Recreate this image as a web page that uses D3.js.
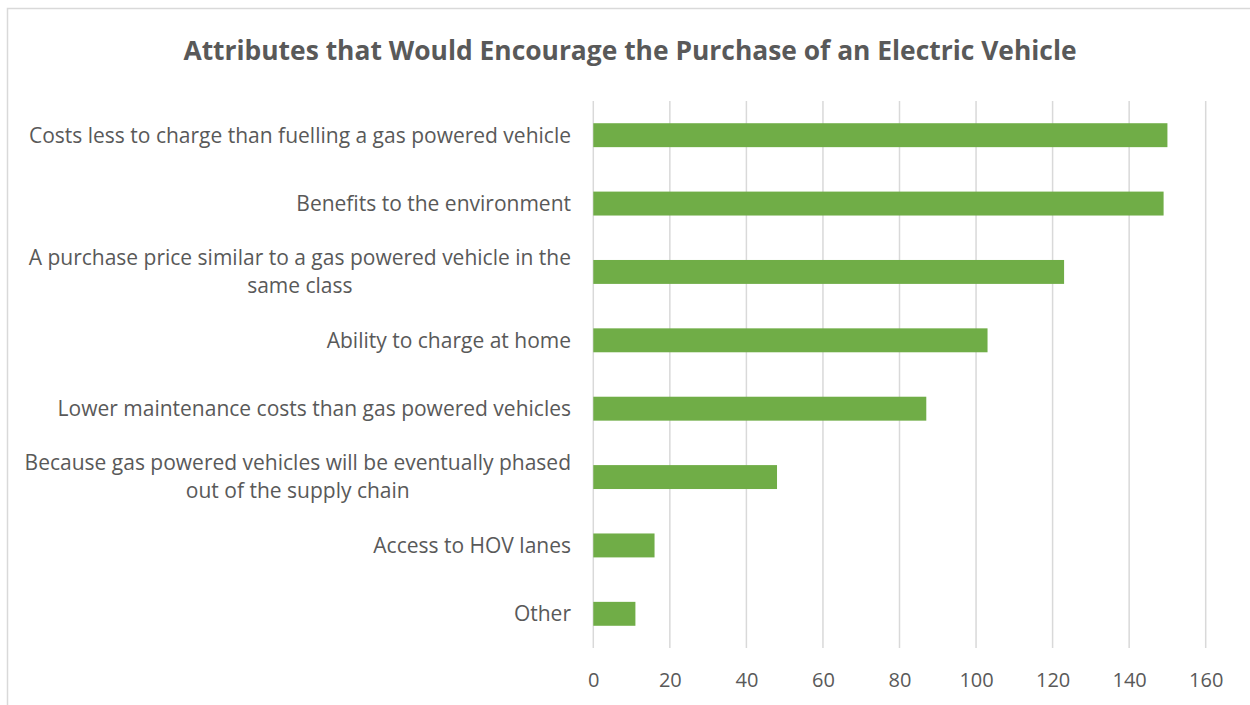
<!DOCTYPE html>
<html>
<head>
<meta charset="utf-8">
<script src="https://cdn.jsdelivr.net/npm/d3@7"></script>
<style>
  html, body { margin: 0; padding: 0; background: #fff; }
  svg { display: block; font-family: "Open Sans", "Noto Sans", sans-serif; }
</style>
</head>
<body>
<svg id="chart" width="1250" height="705"></svg>
<script>
// Survey responses: attributes that would encourage buying an EV
const categories = [
  ["Costs less to charge than fuelling a gas powered vehicle"],
  ["Benefits to the environment"],
  ["A purchase price similar to a gas powered vehicle in the", "same class"],
  ["Ability to charge at home"],
  ["Lower maintenance costs than gas powered vehicles"],
  ["Because gas powered vehicles will be eventually phased", "out of the supply chain"],
  ["Access to HOV lanes"],
  ["Other"]
];
const values = [150, 149, 123, 103, 87, 48, 16, 11];
const xTicks = [0, 20, 40, 60, 80, 100, 120, 140, 160];
const title = "Attributes that Would Encourage the Purchase of an Electric Vehicle";

const svg = d3.select("#chart");
const textColor = "#595959";
const gridColor = "#d9d9d9";
const barColor = "#70ad47";

// chart frame
svg.append("rect")
  .attr("x", 7.5).attr("y", 8.5)
  .attr("width", 1260).attr("height", 720)
  .attr("fill", "#fff")
  .attr("stroke", gridColor)
  .attr("stroke-width", 1.5);

const plot = { left: 593.3, right: 1205.7, top: 101, bottom: 648 };

const x = d3.scaleLinear().domain([0, 160]).range([plot.left, plot.right]);
const y = d3.scaleBand()
  .domain(d3.range(categories.length))
  .range([plot.top, plot.bottom])
  .paddingInner(0.65)
  .paddingOuter(0.325);

// title
svg.append("text")
  .attr("x", 630).attr("y", 60)
  .attr("text-anchor", "middle")
  .attr("fill", textColor)
  .attr("font-size", 26.4)
  .attr("font-weight", 700)
  .text(title);

// vertical gridlines
svg.append("g")
  .selectAll("line")
  .data(xTicks)
  .join("line")
  .attr("x1", d => x(d)).attr("x2", d => x(d))
  .attr("y1", plot.top).attr("y2", plot.bottom)
  .attr("stroke", gridColor)
  .attr("stroke-width", 1.5);

// x axis labels
const xAxis = d3.axisBottom(x).tickValues(xTicks).tickSize(0).tickPadding(0);
const gx = svg.append("g")
  .attr("transform", `translate(0,${plot.bottom + 39})`)
  .call(xAxis);
gx.select(".domain").remove();
gx.selectAll("text")
  .attr("font-family", "'Open Sans', 'Noto Sans', sans-serif")
  .attr("font-size", 20)
  .attr("fill", textColor)
  .attr("dy", 0);

// bars
svg.append("g")
  .selectAll("rect")
  .data(values)
  .join("rect")
  .attr("x", x(0))
  .attr("y", (d, i) => y(i))
  .attr("width", d => x(d) - x(0))
  .attr("height", y.bandwidth())
  .attr("fill", barColor);

// category labels: wrapped lines centred on each other, block right-aligned
const lineH = 28;
const labels = svg.append("g")
  .selectAll("text")
  .data(categories)
  .join("text")
  .attr("font-size", 21)
  .attr("fill", textColor)
  .attr("text-anchor", "middle");

labels.each(function(lines, i) {
  const t = d3.select(this);
  const cy = y(i) + y.bandwidth() / 2;
  const y0 = cy - (lines.length - 1) * lineH / 2;
  lines.forEach((ln, k) => {
    t.append("tspan").attr("y", y0 + k * lineH).attr("dy", "0.35em").text(ln);
  });
  // measure widest line and place the block's right edge at 571
  let w = 0;
  t.selectAll("tspan").each(function() { w = Math.max(w, this.getComputedTextLength()); });
  t.selectAll("tspan").attr("x", 571 - w / 2);
});
</script>
</body>
</html>
